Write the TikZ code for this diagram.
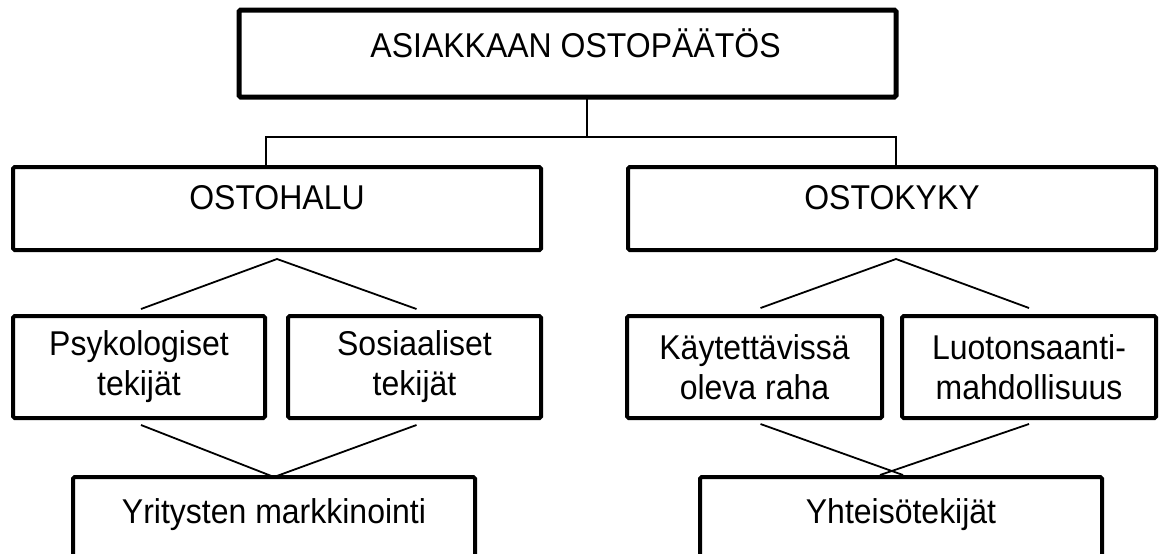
\documentclass[tikz,border=0pt]{standalone}
\usepackage{fontspec}
\setmainfont[FakeStretch=0.93]{Liberation Sans}
\usetikzlibrary{positioning, calc}

\begin{document}
\begin{tikzpicture}[
    x=1pt, y=1pt,
    box/.style = {rectangle, draw, line width=2pt, rounded corners=0.8pt, inner sep=0pt, outer sep=0pt, font=\fontsize{17.2}{20}\selectfont, anchor=north west},
    mainbox/.style = {box, line width=2.5pt, minimum width=328.5pt, minimum height=43.5pt, text height=23.5pt, text depth=20pt},
    branch/.style = {box, minimum width=264pt, minimum height=41.5pt, text height=21pt, text depth=20.5pt},
    factor/.style = {box, minimum height=51pt, align=center},
    effect/.style = {box, minimum width=201pt, minimum height=50pt, text height=23pt, text depth=27pt},
    link/.style = {line width=0.9pt}
]
    \useasboundingbox (0,0) rectangle (579.5,-276.5);
    \clip (0,0) rectangle (579.5,-276.5);

    % Nodes
    \node (paatos) [mainbox] at (119.5,-5) {\hspace{8pt}ASIAKKAAN OSTOPÄÄTÖS};
    \node (ostohalu) [branch] at (6.5,-83.5) {OSTOHALU};
    \node (ostokyky) [branch] at (314,-83.5) {OSTOKYKY};
    \node (psyk) [factor, minimum width=126pt] at (6.5,-158) {Psykologiset\\tekijät};
    \node (sos) [factor, minimum width=126.5pt] at (144,-158) {Sosiaaliset\\tekijät};
    \node (kay) [factor, minimum width=127.5pt] at (313.5,-158) {Käytettävissä\\oleva raha};
    \node (luot) [factor, minimum width=127pt] at (451,-158) {Luotonsaanti-\\mahdollisuus};
    \node (yrit) [effect] at (36.5,-238.5) {Yritysten markkinointi};
    \node (yht) [effect] at (350,-238.5) {Yhteisötekijät};

    % Connectors
    \coordinate (jn) at (293.5,-68.5);
    \coordinate (jl) at (133,-68.5);
    \coordinate (jr) at (448,-68.5);
    \draw [link] (paatos.south -| jn) -- (jn);
    \draw [link] (jl |- ostohalu.north) -- (jl) -- (jr) -- (jr |- ostokyky.north);

    \draw [link] ($(psyk.north)+(1,3.5)$) -- ($(ostohalu.south)+(0,-4.5)$) -- ($(sos.north)+(1,3.5)$);
    \draw [link] ($(kay.north)+(3,4)$) -- ($(ostokyky.south)+(2,-4.5)$) -- ($(luot.north)+(0,4)$);

    \draw [link] ($(psyk.south)+(1,-3.5)$) -- (yrit.north) -- ($(sos.south)+(1,-3.5)$);
    \draw [link] ($(kay.south)+(3,-3)$) -- ($(yht.north)+(1,1)$);
    \draw [link] ($(luot.south)+(0,-3)$) -- ($(yht.north)+(-10.5,1)$);

\end{tikzpicture}
\end{document}
